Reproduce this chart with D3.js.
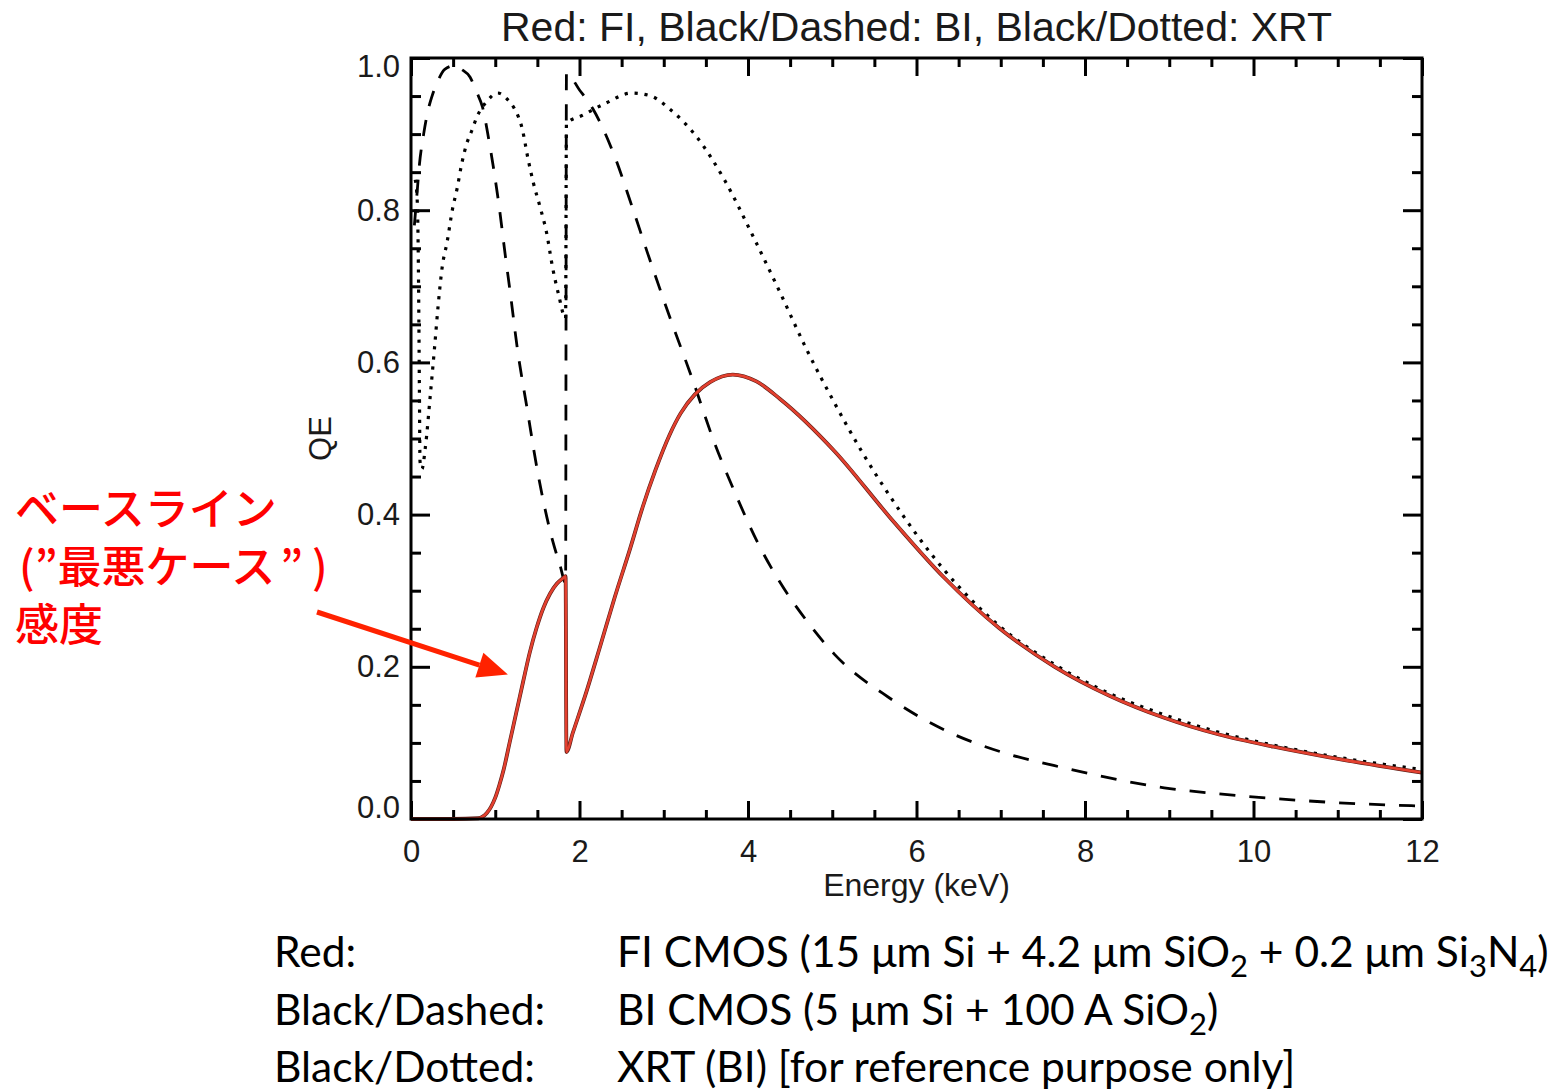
<!DOCTYPE html>
<html>
<head>
<meta charset="utf-8">
<script src="https://cdn.jsdelivr.net/npm/d3@7"></script>
<style>
  body { margin: 0; background: #fff; }
</style>
</head>
<body>
<svg id="chart" width="1560" height="1090" font-family="Liberation Sans, Arial, sans-serif"></svg>
<script>
// ---- data (energy in keV, QE) ----
const energyFI = [0, 0.5, 0.8, 0.85, 0.9, 0.95, 1.0, 1.05, 1.1, 1.17, 1.25, 1.33, 1.41, 1.49, 1.57, 1.65, 1.73, 1.80, 1.835,
  1.845, 1.92, 2.09, 2.24, 2.42, 2.6, 2.75, 2.9, 3.07, 3.2, 3.37, 3.55, 3.82, 4.1, 4.38, 5.03, 5.68, 6.33, 6.98, 7.64, 8.29, 8.94, 9.59, 10.24, 10.9, 12.0];
const qeFI = [0, 0, 0.001, 0.003, 0.008, 0.016, 0.028, 0.045, 0.065, 0.10, 0.14, 0.18, 0.219, 0.251, 0.277, 0.296, 0.309, 0.316, 0.319,
  0.088, 0.113, 0.17, 0.225, 0.292, 0.355, 0.41, 0.458, 0.505, 0.533, 0.558, 0.574, 0.584, 0.575, 0.552, 0.483, 0.397, 0.317, 0.251, 0.200, 0.162, 0.133, 0.111, 0.095, 0.081, 0.061];

const energyBI = [0.04, 0.07, 0.1, 0.15, 0.2, 0.25, 0.32, 0.4, 0.52, 0.6, 0.7, 0.78, 0.85, 0.92, 0.98, 1.04, 1.12, 1.18, 1.26, 1.38, 1.5, 1.58, 1.68, 1.77, 1.835,
  1.845, 2.0, 2.16, 2.42, 2.62, 2.81, 3.07, 3.34, 3.6, 3.86, 4.12, 4.38, 4.7, 5.03, 5.68, 6.33, 6.98, 7.64, 8.29, 8.94, 9.59, 10.24, 10.9, 12.0];
const qeBI = [0.78, 0.82, 0.86, 0.9, 0.93, 0.95, 0.97, 0.985, 0.99, 0.985, 0.975, 0.955, 0.935, 0.895, 0.855, 0.81, 0.74, 0.69, 0.62, 0.538, 0.458, 0.413, 0.366, 0.333, 0.31,
  0.98, 0.958, 0.933, 0.87, 0.806, 0.743, 0.66, 0.578, 0.495, 0.425, 0.362, 0.311, 0.26, 0.216, 0.159, 0.117, 0.089, 0.07, 0.054, 0.041, 0.033, 0.027, 0.022, 0.017];

const energyXRT = [0.05, 0.07, 0.08, 0.09, 0.1, 0.107, 0.13, 0.17, 0.23, 0.28, 0.32, 0.37, 0.43, 0.49, 0.55, 0.6, 0.66, 0.72, 0.78, 0.9, 1.03, 1.15, 1.23, 1.32, 1.39, 1.45, 1.53, 1.61, 1.68, 1.75, 1.835,
  1.845, 2.04, 2.3, 2.62, 2.85, 3.07, 3.4, 3.73, 4.05, 4.38, 4.7, 5.03, 5.35, 5.68, 6.33, 6.98, 7.64, 8.29, 8.94, 9.59, 10.24, 10.9, 12.0];
const qeXRT = [0.84, 0.82, 0.79, 0.70, 0.56, 0.47, 0.46, 0.488, 0.558, 0.62, 0.672, 0.725, 0.759, 0.80, 0.83, 0.86, 0.887, 0.904, 0.922, 0.943, 0.954, 0.945, 0.933, 0.907, 0.867, 0.837, 0.805, 0.77, 0.725, 0.69, 0.658,
  0.914, 0.925, 0.94, 0.954, 0.95, 0.933, 0.895, 0.838, 0.768, 0.692, 0.616, 0.546, 0.483, 0.425, 0.327, 0.254, 0.203, 0.165, 0.137, 0.114, 0.097, 0.083, 0.065];

const xMajor = [0, 2, 4, 6, 8, 10, 12];
const yMajor = [0, 0.2, 0.4, 0.6, 0.8, 1.0];

const titleText = "Red: FI, Black/Dashed: BI, Black/Dotted: XRT";
// annotation lines as [text, extra spacing before it] pieces
const noteLines = [
  [["ベースライン", 0]],
  [["(", 4], ["”最悪ケース", 0], ["”", 5], [")", 9]],
  [["感度", 0]]
];
const legendKeys = ["Red:", "Black/Dashed:", "Black/Dotted:"];
// each legend description as [text, subscript] pieces
const legendDescs = [
  [["FI CMOS (15 μm Si + 4.2 μm SiO", ""], ["2", "sub"], [" + 0.2 μm Si", ""], ["3", "sub"], ["N", ""], ["4", "sub"], [")", ""]],
  [["BI CMOS (5 μm Si + 100 A SiO", ""], ["2", "sub"], [")", ""]],
  [["XRT (BI) [for reference purpose only]", ""]]
];

const svg = d3.select("svg#chart");
const margin = {left: 411, right: 1422, top: 58, bottom: 819};

const x = d3.scaleLinear().domain([0, 12]).range([margin.left, margin.right]);
const y = d3.scaleLinear().domain([0, 1]).range([margin.bottom, margin.top]);

const xMinor = d3.range(0, 12.001, 0.5).filter(d => !xMajor.includes(d));
const yMinor = d3.range(0, 1.0001, 0.05).map(d => +d.toFixed(2)).filter(d => !yMajor.some(m => Math.abs(m - d) < 1e-6));

// ---- axes (IDL style: ticks inward on all four sides) ----
const axes = svg.append("g").attr("class", "axes");

function styleAxis(g) {
  g.attr("font-family", null);
  g.select(".domain").remove();
  g.selectAll(".tick line").attr("stroke", "#000").attr("stroke-width", 3);
  g.selectAll(".tick text").attr("fill", "#1a1a1a").attr("font-size", 31);
}

axes.append("g").attr("transform", `translate(0,${margin.bottom})`)
  .call(d3.axisBottom(x).tickValues(xMajor).tickSize(-18).tickPadding(21).tickFormat(d3.format("d")))
  .call(styleAxis);
axes.append("g").attr("transform", `translate(0,${margin.bottom})`)
  .call(d3.axisBottom(x).tickValues(xMinor).tickSize(-9).tickFormat(""))
  .call(styleAxis);
axes.append("g").attr("transform", `translate(0,${margin.top})`)
  .call(d3.axisTop(x).tickValues(xMajor).tickSize(-18).tickFormat(""))
  .call(styleAxis);
axes.append("g").attr("transform", `translate(0,${margin.top})`)
  .call(d3.axisTop(x).tickValues(xMinor).tickSize(-9).tickFormat(""))
  .call(styleAxis);

const yLeft = axes.append("g").attr("transform", `translate(${margin.left},0)`)
  .call(d3.axisLeft(y).tickValues(yMajor).tickSize(-19).tickPadding(11).tickFormat(d3.format(".1f")))
  .call(styleAxis);
// IDL nudges the end labels inside the box
yLeft.selectAll(".tick text").attr("dy", d => d === 0 ? "-0.05em" : d === 1 ? "0.6em" : "0.32em");
axes.append("g").attr("transform", `translate(${margin.left},0)`)
  .call(d3.axisLeft(y).tickValues(yMinor).tickSize(-10).tickFormat(""))
  .call(styleAxis);
axes.append("g").attr("transform", `translate(${margin.right},0)`)
  .call(d3.axisRight(y).tickValues(yMajor).tickSize(-19).tickFormat(""))
  .call(styleAxis);
axes.append("g").attr("transform", `translate(${margin.right},0)`)
  .call(d3.axisRight(y).tickValues(yMinor).tickSize(-10).tickFormat(""))
  .call(styleAxis);

// ---- curves ----
const line = d3.line().x(d => x(d[0])).y(d => y(d[1])).curve(d3.curveMonotoneX);
const curves = svg.append("g").attr("class", "curves");

curves.append("path").datum(d3.zip(energyXRT, qeXRT)).attr("d", line)
  .attr("fill", "none").attr("stroke", "#000").attr("stroke-width", 3.2).attr("stroke-dasharray", "3.2,6.8");
curves.append("path").datum(d3.zip(energyBI, qeBI)).attr("d", line)
  .attr("fill", "none").attr("stroke", "#000").attr("stroke-width", 2.8).attr("stroke-dasharray", "16,14");
const fiPts = d3.zip(energyFI, qeFI);
curves.append("path").datum(fiPts).attr("d", line)
  .attr("fill", "none").attr("stroke", "#5a1d16").attr("stroke-width", 3.8).attr("stroke-linejoin", "round");
curves.append("path").datum(fiPts).attr("d", line)
  .attr("fill", "none").attr("stroke", "#e3402f").attr("stroke-width", 2.6).attr("stroke-linejoin", "round");

// box
svg.append("rect").attr("x", margin.left).attr("y", margin.top)
  .attr("width", margin.right - margin.left).attr("height", margin.bottom - margin.top)
  .attr("fill", "none").attr("stroke", "#000").attr("stroke-width", 3);

// ---- titles ----
svg.append("text").attr("x", (margin.left + margin.right) / 2).attr("y", 41)
  .attr("text-anchor", "middle").attr("font-size", 41).attr("fill", "#1a1a1a").text(titleText);
svg.append("text").attr("x", (margin.left + margin.right) / 2).attr("y", 896)
  .attr("text-anchor", "middle").attr("font-size", 32).attr("fill", "#1a1a1a").text("Energy (keV)");
svg.append("text").attr("transform", `translate(331,${(margin.top + margin.bottom) / 2}) rotate(-90)`)
  .attr("text-anchor", "middle").attr("font-size", 31).attr("fill", "#1a1a1a").text("QE");

// ---- annotation ----
const note = svg.append("g").attr("class", "note");
note.selectAll("text").data(noteLines).enter().append("text")
  .attr("x", 15).attr("y", (d, i) => 525 + i * 58)
  .attr("font-family", "Noto Sans CJK JP").attr("font-size", 44).attr("font-weight", 500).attr("fill", "#ff0000")
  .each(function(parts) {
    const t = d3.select(this);
    parts.forEach(([s, gap]) => t.append("tspan").attr("dx", gap).text(s));
  });
const tipX = x(1.15), tipY = y(0.19);
const ang = Math.atan2(tipY - 612, tipX - 317);
const headLen = 30, headW = 13;
const bx = tipX - headLen * Math.cos(ang), by = tipY - headLen * Math.sin(ang);
note.append("line").attr("x1", 317).attr("y1", 612).attr("x2", bx).attr("y2", by)
  .attr("stroke", "#ff2200").attr("stroke-width", 5);
note.append("path")
  .attr("d", `M${tipX},${tipY} L${bx + headW * Math.sin(ang)},${by - headW * Math.cos(ang)} L${bx - headW * Math.sin(ang)},${by + headW * Math.cos(ang)} Z`)
  .attr("fill", "#ff2200");

// ---- legend text below the plot ----
const legend = svg.append("g").attr("class", "legend")
  .attr("font-family", "Lato, 'Open Sans', sans-serif").attr("font-size", 42.5).attr("fill", "#000");
legendKeys.forEach((k, i) => {
  const yy = 967 + i * 57.5;
  legend.append("text").attr("x", 274).attr("y", yy).text(k);
  const t = legend.append("text").attr("x", 617).attr("y", yy);
  let shifted = false;
  legendDescs[i].forEach(([s, kind]) => {
    const sp = t.append("tspan").text(s);
    if (kind === "sub" && !shifted) { sp.attr("dy", 10).attr("font-size", 31); shifted = true; }
    else if (kind === "sub") { sp.attr("font-size", 31); }
    else if (shifted) { sp.attr("dy", -10); shifted = false; }
  });
});
</script>
</body>
</html>
